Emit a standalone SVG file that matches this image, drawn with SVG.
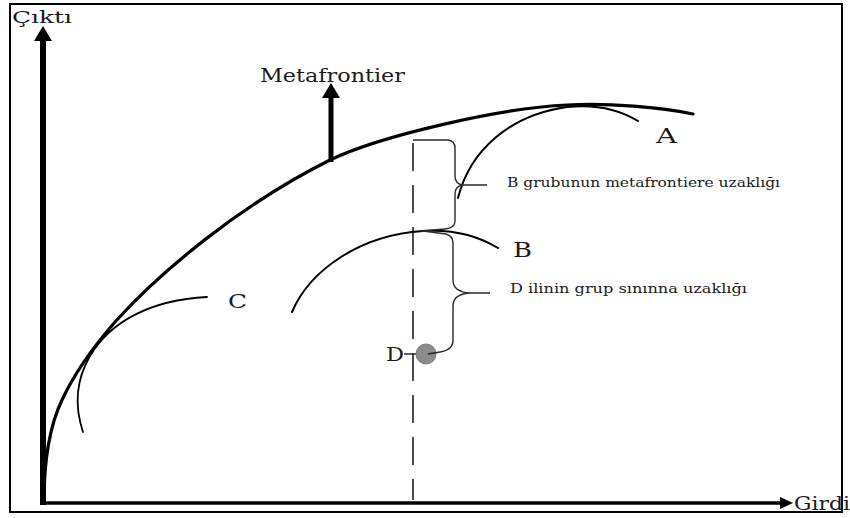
<svg xmlns="http://www.w3.org/2000/svg" width="850" height="518" viewBox="0 0 850 518">
<style>
.t{font-family:"DejaVu Serif","Liberation Serif",serif;fill:#1a1a1a}
.c{fill:none;stroke:#000;stroke-linecap:round;stroke-linejoin:round}
.br{fill:none;stroke:#2a2a2a;stroke-width:1.4;stroke-linejoin:round}
</style>
<rect x="0" y="0" width="850" height="518" fill="#fff"/>
<rect x="10" y="4" width="832" height="508" fill="none" stroke="#000" stroke-width="2"/>
<g id="axes">
<line x1="43" y1="505" x2="43" y2="38" stroke="#000" stroke-width="6"/>
<polygon points="43,26 34,41 52,41" fill="#000"/>
<line x1="41" y1="503" x2="782" y2="503" stroke="#000" stroke-width="3.5"/>
<polygon points="793,503 780,497 780,509" fill="#000"/>
<text class="t" x="12" y="23" font-size="17" textLength="60" lengthAdjust="spacingAndGlyphs">Çıktı</text>
<text class="t" x="794" y="510" font-size="18" textLength="56" lengthAdjust="spacingAndGlyphs">Girdi</text>
</g>
<g id="dashed">
<line x1="413" y1="143" x2="413" y2="500" stroke="#222" stroke-width="1.6" stroke-dasharray="28 14"/>
</g>
<g id="metafrontier">
<path class="c" stroke-width="3.2" d="M44,502 C44,460 50,425 62,400 C75,372 95,345 115,322 C160,272 240,205 330,160 C380,136 500,108 567,105 C610,103 660,107 693,114"/>
<line x1="331" y1="162" x2="331" y2="95" stroke="#000" stroke-width="5"/>
<polygon points="331,83 322,98 340,98" fill="#000"/>
<text class="t" x="260" y="82" font-size="19" textLength="145" lengthAdjust="spacingAndGlyphs">Metafrontier</text>
</g>
<g id="groupA">
<path class="c" stroke-width="2" d="M458,198 C470,150 510,115 567,107 C595,104 620,110 638,121"/>
<text class="t" x="656" y="143" font-size="20" textLength="21" lengthAdjust="spacingAndGlyphs">A</text>
</g>
<g id="groupB">
<path class="c" stroke-width="2" d="M292,312 C310,270 360,235 423,231 C455,229 480,237 498,248"/>
<text class="t" x="513" y="257" font-size="20" textLength="19" lengthAdjust="spacingAndGlyphs">B</text>
</g>
<g id="groupC">
<path class="c" stroke-width="1.8" d="M83,432 C74,405 76,380 90,356 C110,322 150,300 207,297"/>
<text class="t" x="228" y="308" font-size="19" textLength="19" lengthAdjust="spacingAndGlyphs">C</text>
</g>
<g id="pointD">
<line x1="404" y1="354" x2="420" y2="354" stroke="#222" stroke-width="1.4"/>
<circle cx="426" cy="354" r="10" fill="#8c8c8c" stroke="#7a7a7a" stroke-width="1"/>
<text class="t" x="386" y="361" font-size="19" textLength="18" lengthAdjust="spacingAndGlyphs">D</text>
</g>
<g id="braces">
<path class="br" d="M413,140 L448,140 Q455,141 455,148 L455,176 Q455,184 463,185 L487,185 M463,185 Q455,186 455,194 L455,221 Q455,228 445,229 L420,231"/>
<path class="br" d="M423,231 L446,234 Q453,236 453,243 L453,280 Q453,292 470,293 L490,293 M470,293 Q453,294 453,306 L453,340 Q453,350 440,352 L428,354"/>
<text class="t" x="507" y="187" font-size="12.5" textLength="273" lengthAdjust="spacingAndGlyphs">B grubunun metafrontiere uzaklığı</text>
<text class="t" x="510" y="293" font-size="12.5" textLength="237" lengthAdjust="spacingAndGlyphs">D ilinin grup sınınna uzaklığı</text>
</g>
</svg>
